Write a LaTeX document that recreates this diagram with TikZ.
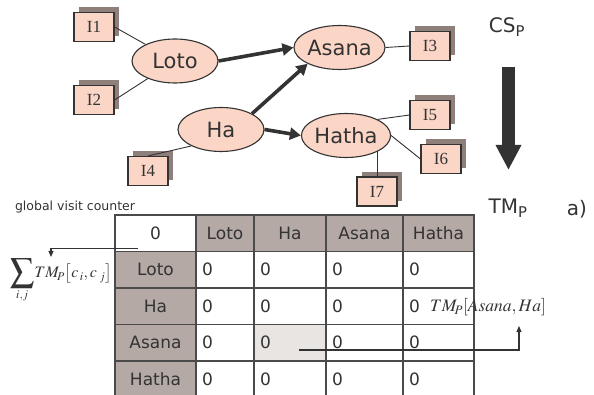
\documentclass[tikz,border=0pt]{standalone}
\usepackage{mathptmx}
\usepackage{graphicx}
\usepackage{fontspec}
\setmainfont{DejaVu Sans}
\newfontfamily\timesf{Liberation Serif}
\usetikzlibrary{shapes.geometric,arrows.meta,calc}
\definecolor{peach}{HTML}{FBD5C5}
\definecolor{shad}{HTML}{8E7F7B}
\definecolor{hdr}{HTML}{B4A9A5}
\definecolor{lite}{HTML}{E8E5E2}
\definecolor{ink}{HTML}{333333}
\definecolor{tline}{HTML}{4A4A4A}
\begin{document}
\begin{tikzpicture}[x=1pt,y=-1pt,
  concept/.style={ellipse, draw=ink, line width=1.1pt, fill=peach, minimum width=86pt, minimum height=44pt, inner sep=0pt, font=\fontsize{21}{23}\selectfont, text=ink},
  ibox/.style={rectangle, draw=ink, line width=1.1pt, fill=peach, minimum width=40pt, minimum height=29pt, inner sep=0pt, font=\timesf\fontsize{17}{19}\selectfont, text=ink},
  ishadow/.style={rectangle, fill=shad, minimum width=40pt, minimum height=29pt, inner sep=0pt},
  thinline/.style={draw=ink, line width=0.9pt},
  heavyarrow/.style={draw=ink, line width=3.6pt, -{Triangle[length=11pt,width=12pt]}},
  bigarrow/.style={draw=ink, line width=13pt, -{Triangle[length=25pt,width=24pt]}},
  conn/.style={draw=ink, line width=1.1pt, -{Triangle[length=6pt,width=5pt]}},
  lbl/.style={text=ink, inner sep=0pt},
  cell/.style={draw=tline, line width=1.2pt, minimum height=36.5pt, anchor=north west, inner sep=0pt, outer sep=0pt, font=\fontsize{17}{20}\selectfont, text=ink},
  hcell/.style={cell, fill=hdr},
]
\useasboundingbox (0,0) rectangle (594,395);

% ---------- concept graph ----------
\node[concept] (loto) at (175,61) {Loto};
\node[concept] (ha) at (221,129.5) {Ha};
\node[concept] (asana) at (339.5,47.5) {Asana};
\node[concept] (hatha) at (346,135.5) {Hatha};

\node[ishadow] (s1) at (99,22) {};
\node[ibox] (i1) at (94,27) {I1};
\node[ishadow] (s2) at (99,95) {};
\node[ibox] (i2) at (94,100) {I2};
\node[ishadow] (s3) at (435,41) {};
\node[ibox] (i3) at (430,46) {I3};
\node[ishadow] (s4) at (153,166) {};
\node[ibox] (i4) at (148,171) {I4};
\node[ishadow] (s5) at (435,110) {};
\node[ibox] (i5) at (430,115) {I5};
\node[ishadow] (s6) at (446,154) {};
\node[ibox] (i6) at (441,159) {I6};
\node[ishadow] (s7) at (381.5,187) {};
\node[ibox] (i7) at (377,191.5) {I7};

\draw[thinline] (i1.east) -- (loto);
\draw[thinline] (i2.east) -- (loto);
\draw[thinline] (i4.north) -- (ha.209);
\draw[thinline] (asana.east) -- (i3.west);
\draw[thinline] (hatha.27) -- (i5.west);
\draw[thinline] (hatha.east) -- (i6.west);
\draw[thinline] (i7.north) -- (i7.north |- hatha.-26);

\draw[heavyarrow] (loto.east) -- (asana.west);
\draw[heavyarrow] (ha.27) -- (asana.207);
\draw[heavyarrow] (ha.east) -- (hatha.west);

% ---------- CS / TM ----------
\node[lbl, font=\fontsize{20}{22}\selectfont] (cs) at (507,27) {CS\textsubscript{P}};
\node[lbl, font=\fontsize{20}{22}\selectfont] (tm) at (508,208) {TM\textsubscript{P}};
\node[lbl, font=\fontsize{20}{22}\selectfont] (alab) at (577,209) {a)};
\coordinate (bigtop) at (508.5,67);
\coordinate (bigtip) at (508.5,170);
\draw[bigarrow] (bigtop) -- (bigtip);

% ---------- table ----------
\node[cell, fill=white, minimum width=81pt] (r0c0) at (115,215) {0};
\node[hcell, minimum width=58pt] (r0c1) at (196,215) {Loto};
\node[hcell, minimum width=72pt] (r0c2) at (254,215) {Ha};
\node[hcell, minimum width=77pt] (r0c3) at (326,215) {Asana};
\node[hcell, minimum width=71pt] (r0c4) at (403,215) {Hatha};
\node[hcell, minimum width=81pt] (r1c0) at (115,251.5) {Loto};
\node[hcell, minimum width=81pt] (r2c0) at (115,288) {Ha};
\node[hcell, minimum width=81pt] (r3c0) at (115,324.5) {Asana};
\node[hcell, minimum width=81pt] (r4c0) at (115,361) {Hatha};
\foreach \r/\y in {1/251.5,2/288,3/324.5,4/361}{
  \foreach \c/\x/\tw in {1/196/46,2/254/60,3/326/65,4/403/59}{
    \node[cell, fill=white, inner xsep=6pt, text width=\tw pt, align=left] (r\r c\c) at (\x,\y) {0};
  }
}
\node[cell, fill=lite, inner xsep=6pt, text width=60pt, align=left] (r3c2) at (254,324.5) {0};

% ---------- annotations ----------
\node[lbl, font=\fontsize{12.5}{14}\selectfont] (gvc) at (75,207) {global visit counter};
\node[lbl, font=\fontsize{16}{18}\selectfont] (sumf) at (61,281) {$\mathop{\vcenter{\hbox{\scalebox{1.5}{$\displaystyle\sum$}}}}\limits_{i,j}\!TM_{\!P}\bigl[c_{\,i},c_{\;j}\bigr]$};
\coordinate (gvtip) at (51,257);
\draw[conn] ($(r0c0.west)+(23,15)$) -| (gvtip);

\node[lbl, font=\fontsize{17.5}{19}\selectfont] (tmlab) at (488,307) {$TM_{\!P}[Asana,Ha]$};
\coordinate (tmstart) at (299,350);
\coordinate (tmtip) at (519,326);
\draw[conn] (tmstart) -| (tmtip);
\end{tikzpicture}
\end{document}
